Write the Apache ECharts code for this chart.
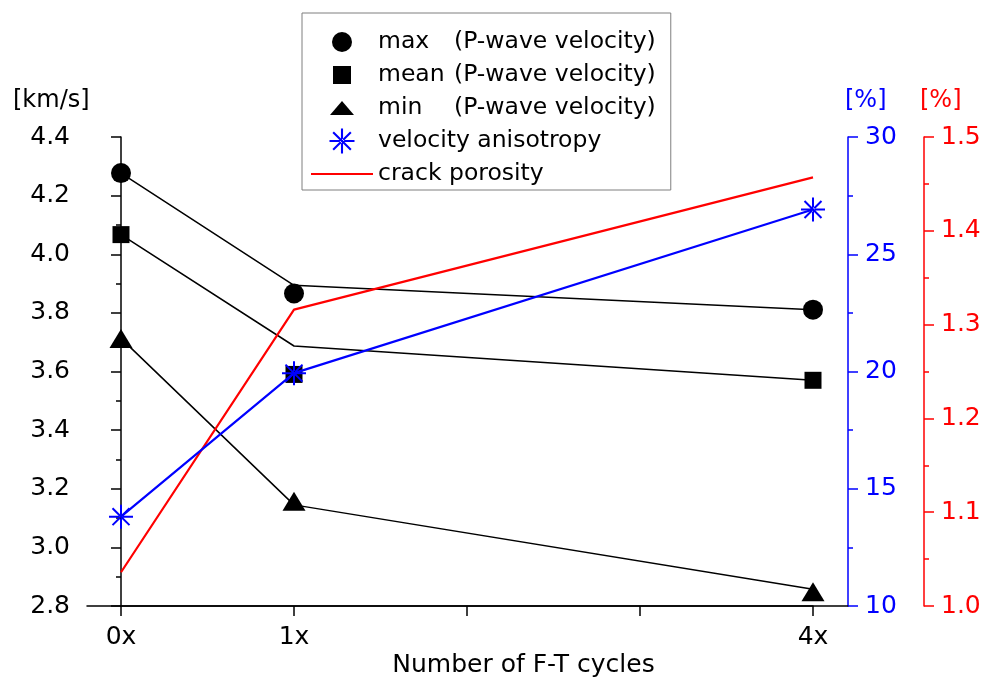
<!DOCTYPE html>
<html><head><meta charset="utf-8">
<script src="https://cdn.jsdelivr.net/npm/echarts@6/dist/echarts.min.js"></script>
<style>html,body{margin:0;padding:0;background:#fff}#c{width:985px;height:677px}</style>
</head><body><div id="c"></div>
<script>
// ---- data ----
const cycles = [0, 1, 4];
const xTickLabels = {0: '0x', 1: '1x', 4: '4x'};
const maxVel = [4.277, 3.866, 3.811];
const meanVel = [4.067, 3.590, 3.570];
const minVel = [3.713, 3.157, 2.849];
const maxLine = [4.277, 3.894, 3.811];
const meanLine = [4.067, 3.687, 3.570];
const minLine = [3.713, 3.145, 2.857];
const anisotropy = [13.81, 19.93, 26.91];
const porosity = [1.036, 1.316, 1.457];
const legendNames = ['max', 'mean', 'min', 'velocity anisotropy', 'crack porosity'];
const unitLabels = ['[km/s]', '[%]', '[%]'];

const FONT = 'DejaVu Sans';
const STAR = 'path://M-1,-12L1,-12L1,12L-1,12Z M-12,-1L12,-1L12,1L-12,1Z ' +
  'M-7.78,-9.19L9.19,7.78L7.78,9.19L-9.19,-7.78Z M-7.78,9.19L9.19,-7.78L7.78,-9.19L-9.19,7.78Z';
const PAD = 'M-12.5,-12.5M12.5,12.5';
const legendIcons = {
  'max': 'path://' + PAD + 'M-10,0A10,10 0 1,0 10,0A10,10 0 1,0 -10,0Z',
  'mean': 'path://' + PAD + 'M-9,-9L9,-9L9,9L-9,9Z',
  'min': 'path://' + PAD + 'M0,-7L12,7L-12,7Z',
  'velocity anisotropy': STAR,
  'crack porosity': 'path://M-31,-12.5M31,12.5M-31,-1L31,-1L31,1L-31,1Z'
};
const pair = arr => cycles.map((c, i) => [c, arr[i]]);

const chart = echarts.init(document.getElementById('c'));

function yAx(opts) {
  return Object.assign({
    type: 'value', gridIndex: 0,
    axisLine: {show: true, lineStyle: {color: opts.color, width: 1.5}},
    axisTick: {show: true, length: 10, inside: false, lineStyle: {color: opts.color, width: 1.5}},
    minorTick: {show: true, splitNumber: 2, length: 5, lineStyle: {color: opts.color, width: 1.5}},
    splitLine: {show: false}, minorSplitLine: {show: false},
    axisLabel: {color: opts.color, fontFamily: FONT, fontSize: 25, margin: 17, formatter: opts.fmt}
  }, opts.extra);
}

const unitTitle = (text, left, color) => ({
  text: text, left: left, top: 89, padding: 0,
  textStyle: {color: color, fontFamily: FONT, fontSize: 24, fontWeight: 'normal'}
});

const option = {
  animation: false,
  backgroundColor: '#fff',
  title: [
    unitTitle(unitLabels[0], 13, '#000'),
    unitTitle(unitLabels[1], 845, '#0000ff'),
    unitTitle(unitLabels[2], 920, '#ff0000')
  ],
  grid: [
    {left: 121, right: 172, top: 137, bottom: 71, outerBoundsMode: 'none', containLabel: false},
    {left: 87, right: 137, top: 137, bottom: 71, outerBoundsMode: 'none', containLabel: false}
  ],
  legend: {
    data: legendNames.map(n => ({name: n, icon: legendIcons[n]})),
    orient: 'vertical', left: 302, top: 13,
    itemWidth: 62, itemHeight: 25, itemGap: 7,
    padding: [16, 15, 3, 9],
    borderColor: '#7f7f7f', borderWidth: 1, backgroundColor: '#fff',
    selectedMode: false,
    formatter: name => (name === 'max' || name === 'mean' || name === 'min')
      ? '{a|' + name + '}{b|(P-wave velocity)}' : '{b|' + name + '}',
    textStyle: {
      fontFamily: FONT, fontSize: 23.5, color: '#000', lineHeight: 26,
      rich: {
        a: {width: 76, fontFamily: FONT, fontSize: 23.5, color: '#000', lineHeight: 26},
        b: {fontFamily: FONT, fontSize: 23.5, color: '#000', lineHeight: 26}
      }
    }
  },
  xAxis: [
    {
      type: 'value', gridIndex: 0, min: 0, max: 4, interval: 1,
      axisLine: {show: true, lineStyle: {color: '#000', width: 1.5}},
      axisTick: {show: true, length: 10, lineStyle: {color: '#000', width: 1.5}},
      splitLine: {show: false},
      axisLabel: {color: '#000', fontFamily: FONT, fontSize: 25, margin: 19,
        formatter: v => xTickLabels[v] || ''}
    },
    {
      type: 'value', gridIndex: 1, min: 0, max: 1,
      axisLine: {show: true, lineStyle: {color: '#000', width: 1.5}},
      axisTick: {show: false}, axisLabel: {show: false}, splitLine: {show: false},
      name: 'Number of F-T cycles', nameLocation: 'middle', nameGap: 47,
      nameTextStyle: {color: '#000', fontFamily: FONT, fontSize: 25, padding: [0, 0, 0, 112]}
    }
  ],
  yAxis: [
    yAx({color: '#000', fmt: v => v.toFixed(1),
      extra: {position: 'left', offset: 34, min: 2.8, max: 4.4, interval: 0.2}}),
    yAx({color: '#0000ff', fmt: v => String(v),
      extra: {position: 'right', offset: 35, min: 10, max: 30, interval: 5}}),
    yAx({color: '#ff0000', fmt: v => v.toFixed(1),
      extra: {position: 'right', offset: 111, min: 1.0, max: 1.5, interval: 0.1}}),
    {type: 'value', gridIndex: 1, show: false, min: 0, max: 1}
  ],
  series: [
    {name: 'maxLine', type: 'line', data: pair(maxLine), symbol: 'none', z: 2,
      lineStyle: {color: '#000', width: 1.5}, itemStyle: {color: '#000'}},
    {name: 'meanLine', type: 'line', data: pair(meanLine), symbol: 'none', z: 2,
      lineStyle: {color: '#000', width: 1.5}, itemStyle: {color: '#000'}},
    {name: 'minLine', type: 'line', data: pair(minLine), symbol: 'none', z: 2,
      lineStyle: {color: '#000', width: 1.5}, itemStyle: {color: '#000'}},
    {name: 'max', type: 'scatter', data: pair(maxVel), symbol: 'circle', symbolSize: 20, z: 3,
      itemStyle: {color: '#000', opacity: 1}},
    {name: 'mean', type: 'scatter', data: pair(meanVel), symbol: 'rect', symbolSize: 17, z: 3,
      itemStyle: {color: '#000', opacity: 1}},
    {name: 'min', type: 'scatter', data: pair(minVel), symbol: 'triangle', symbolSize: [23, 19], z: 3,
      itemStyle: {color: '#000', opacity: 1}},
    {name: 'crack porosity', type: 'line', yAxisIndex: 2, data: pair(porosity), symbol: 'none', z: 4,
      lineStyle: {color: '#ff0000', width: 2.2}, itemStyle: {color: '#ff0000'}},
    {name: 'velocity anisotropy', type: 'line', yAxisIndex: 1, data: pair(anisotropy),
      symbol: STAR, symbolSize: 24, showSymbol: true, z: 5,
      lineStyle: {color: '#0000ff', width: 2.2}, itemStyle: {color: '#0000ff'}}
  ]
};
chart.setOption(option);
</script>
</body></html>
